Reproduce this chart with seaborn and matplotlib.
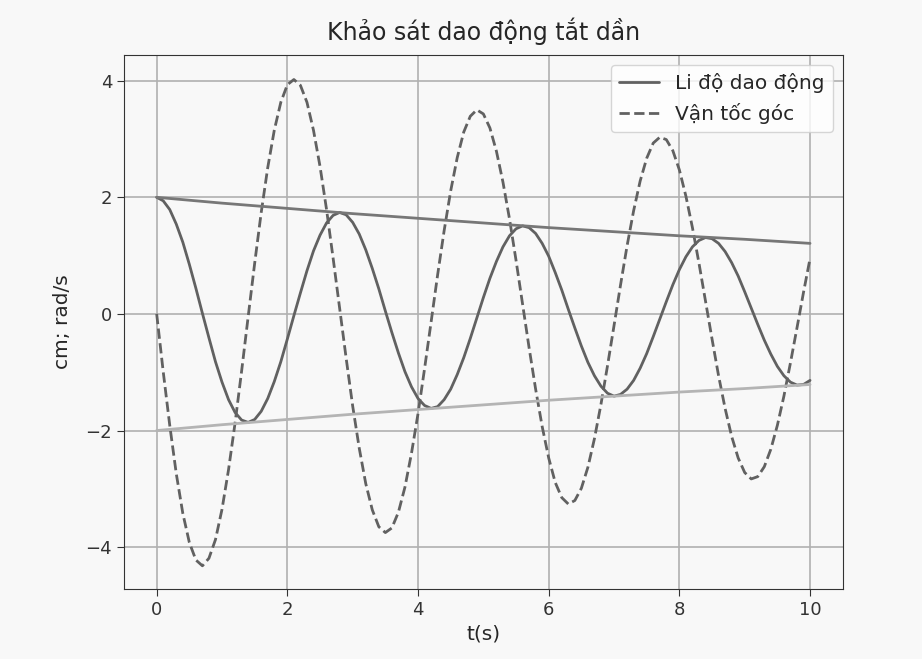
import numpy as np
import pandas as pd
import seaborn as sns
import matplotlib.pyplot as plt

# thời gian (s), bước 0.1 s
t = np.round(np.arange(101) * 0.1, 1)

# li độ (cm)
li_do = [2.00, 1.94, 1.79, 1.54, 1.23, 0.85, 0.44, 0.01, -0.41, -0.82,
         -1.17, -1.47, -1.69, -1.82, -1.86, -1.81, -1.67, -1.45, -1.16, -0.82,
         -0.43, -0.03, 0.36, 0.74, 1.08, 1.35, 1.56, 1.69, 1.74, 1.70,
         1.57, 1.37, 1.10, 0.78, 0.43, 0.05, -0.32, -0.67, -0.99, -1.25,
         -1.45, -1.57, -1.62, -1.59, -1.47, -1.29, -1.04, -0.75, -0.42, -0.07,
         0.28, 0.61, 0.90, 1.15, 1.34, 1.46, 1.51, 1.48, 1.38, 1.21,
         0.99, 0.71, 0.41, 0.08, -0.24, -0.55, -0.83, -1.06, -1.24, -1.36,
         -1.41, -1.38, -1.29, -1.14, -0.93, -0.68, -0.39, -0.09, 0.21, 0.50,
         0.76, 0.98, 1.15, 1.26, 1.31, 1.29, 1.21, 1.07, 0.88, 0.65,
         0.38, 0.10, -0.18, -0.45, -0.69, -0.90, -1.06, -1.17, -1.22, -1.21,
         -1.14]

# vận tốc góc (rad/s)
van_toc = [0.00, -0.99, -1.91, -2.74, -3.42, -3.92, -4.22, -4.32, -4.19, -3.87,
           -3.35, -2.67, -1.87, -0.98, -0.05, 0.87, 1.74, 2.51, 3.15, 3.63,
           3.93, 4.02, 3.92, 3.63, 3.15, 2.53, 1.79, 0.96, 0.10, -0.76,
           -1.58, -2.30, -2.91, -3.36, -3.65, -3.75, -3.67, -3.40, -2.97, -2.39,
           -1.71, -0.94, -0.14, 0.67, 1.43, 2.11, 2.68, 3.12, 3.39, 3.50,
           3.43, 3.19, 2.79, 2.26, 1.63, 0.92, 0.17, -0.58, -1.29, -1.93,
           -2.47, -2.89, -3.15, -3.26, -3.20, -2.99, -2.63, -2.14, -1.55, -0.89,
           -0.20, 0.50, 1.17, 1.77, 2.28, 2.67, 2.93, 3.03, 2.99, 2.80,
           2.47, 2.02, 1.48, 0.87, 0.22, -0.43, -1.06, -1.62, -2.10, -2.47,
           -2.72, -2.83, -2.79, -2.62, -2.32, -1.91, -1.41, -0.84, -0.24, 0.37,
           0.95]

# đường bao biên độ
t_bao = [0, 1, 2, 3, 4, 5, 6, 7, 8, 9, 10]
bao_tren = [2.00, 1.90, 1.81, 1.72, 1.64, 1.56, 1.48, 1.41, 1.34, 1.28, 1.21]
bao_duoi = [-2.00, -1.90, -1.81, -1.72, -1.64, -1.56, -1.48, -1.41, -1.34, -1.28, -1.21]

bg = "#f8f8f8"
sns.set_style("ticks", rc={"axes.facecolor": bg, "figure.facecolor": bg,
                           "axes.edgecolor": "#333333", "grid.color": "#b0b0b0",
                           "xtick.color": "#333333", "ytick.color": "#333333"})
plt.rcParams["font.family"] = ["DejaVu Sans"]

df = pd.DataFrame({"t": t, "x": li_do, "v": van_toc})
df_bao = pd.DataFrame({"t": t_bao, "tren": bao_tren, "duoi": bao_duoi})

fig, ax = plt.subplots(figsize=(9.22, 6.59), dpi=100)
fig.subplots_adjust(left=0.1345, right=0.914, bottom=0.106, top=0.9165)

sns.lineplot(data=df, x="t", y="x", ax=ax, color="#616161", linewidth=2, label="Li độ dao động")
sns.lineplot(data=df, x="t", y="v", ax=ax, color="#616161", linewidth=2, linestyle="--", label="Vận tốc góc")
sns.lineplot(data=df_bao, x="t", y="tren", ax=ax, color="#777777", linewidth=2, legend=False)
sns.lineplot(data=df_bao, x="t", y="duoi", ax=ax, color="#b4b4b4", linewidth=2, legend=False)

ax.grid(True, linewidth=1.2)
ax.set_xticks([0, 2, 4, 6, 8, 10])
ax.set_yticks([-4, -2, 0, 2, 4])
ax.set_xlim(-0.5, 10.5)
ax.set_ylim(-4.72, 4.44)
ax.tick_params(labelsize=13, length=5)
ax.set_xlabel("t(s)", fontsize=14.5)
ax.set_ylabel("cm; rad/s", fontsize=14.5, labelpad=10)
ax.set_title("Khảo sát dao động tắt dần", fontsize=17, pad=11)

handles, labels = ax.get_legend_handles_labels()
ax.legend(handles[:2], labels[:2], loc="upper right", fontsize=14.5, facecolor="white", edgecolor="#cccccc")

plt.savefig("out.png", dpi=100, facecolor=bg)
